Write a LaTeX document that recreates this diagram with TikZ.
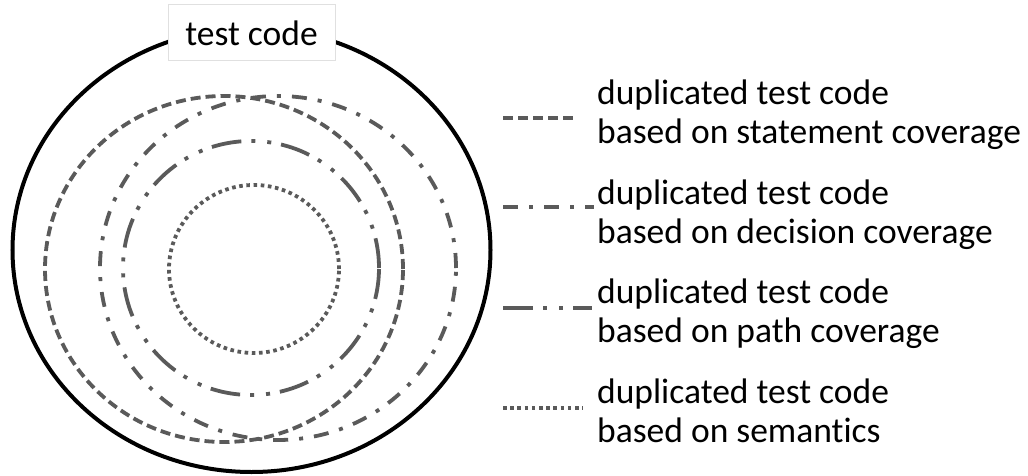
\documentclass[tikz,border=0pt]{standalone}
\usepackage{fontspec}
\setmainfont[Ligatures=NoCommon]{Carlito}
\definecolor{ringgray}{RGB}{90,90,90}
\begin{document}
\begin{tikzpicture}[x=1pt,y=-1pt,
  ring/.style={draw=ringgray, line width=3.8pt},
  stmtline/.style={ring, dash pattern=on 10pt off 5pt},
  decline/.style={ring, dash pattern=on 15pt off 11pt on 4pt off 11pt},
  pathline/.style={ring, dash pattern=on 30pt off 10pt on 4pt off 12pt on 4pt off 10pt},
  semline/.style={ring, dash pattern=on 3.6pt off 3.6pt},
  legendtext/.style={anchor=base west, align=left, inner sep=0pt,
    font=\fontsize{35.5}{38.5}\selectfont},
]
\useasboundingbox (0,0) rectangle (1028,476);

% nested coverage sets
\draw[stmtline] (224,269) ellipse [x radius=179pt, y radius=173pt];
\draw[decline]  (278,268) ellipse [x radius=178pt, y radius=172pt];
\draw[pathline] (251,268) ellipse [x radius=128pt, y radius=127pt];
\draw[semline]  (254,269) ellipse [x radius=85pt, y radius=84pt];

% all test code
\draw[black, line width=4pt] (251.5,250) ellipse [x radius=239pt, y radius=222pt];
\node[fill=white, draw=black!12, line width=1pt, minimum width=167pt, minimum height=56pt,
  inner sep=0pt, text height=25pt, text depth=0pt,
  font=\fontsize{35.5}{38.5}\selectfont] (title) at (251.5,33) {test code};

% legend (anchored on the baseline of the second line)
\node[legendtext] (tstmt) at (597,143) {duplicated test code\\based on statement coverage};
\node[legendtext] (tdec)  at (597,243) {duplicated test code\\based on decision coverage};
\node[legendtext] (tpath) at (597,342) {duplicated test code\\based on path coverage};
\node[legendtext] (tsem)  at (597,442) {duplicated test code\\based on semantics};

\coordinate (ls0) at (503,118); \coordinate (ls1) at (577,118);
\coordinate (ld0) at (503,207); \coordinate (ld1) at (594,207);
\coordinate (lp0) at (503,308); \coordinate (lp1) at (592,308);
\coordinate (lm0) at (503,408); \coordinate (lm1) at (583,408);
\draw[stmtline] (ls0) -- (ls1);
\draw[decline]  (ld0) -- (ld1);
\draw[pathline] (lp0) -- (lp1);
\draw[semline]  (lm0) -- (lm1);
\end{tikzpicture}
\end{document}
